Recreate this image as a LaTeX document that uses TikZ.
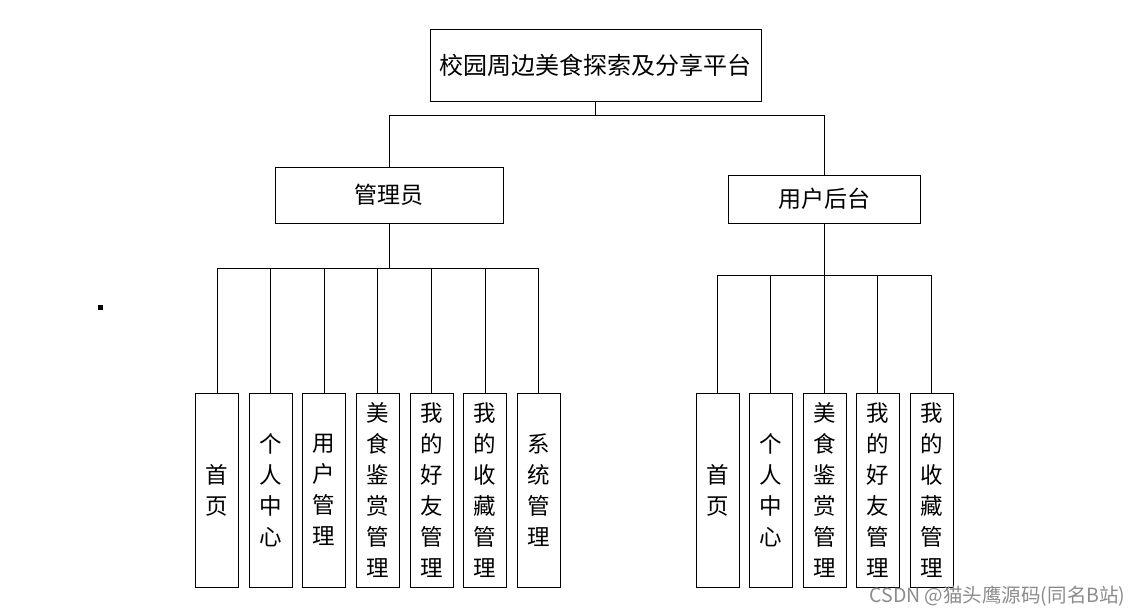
\documentclass[tikz,border=0pt]{standalone}
\usepackage{fontspec}
\newfontfamily\cjk{Noto Sans CJK SC}
\begin{document}
\begin{tikzpicture}[x=1pt,y=-1pt,
  box/.style={draw=black,line width=0.9pt,inner sep=0pt,fill=white},
  leaf/.style={box,minimum width=43pt,minimum height=194pt,align=center,font=\cjk\fontsize{22.5}{31}\selectfont},
  mid/.style={box,font=\cjk\fontsize{23}{28}\selectfont},
  conn/.style={draw=black,line width=0.9pt}]
\useasboundingbox (0,0) rectangle (1139,615);
\fill[white] (0,0) rectangle (1139,615);
% top
\node[box,minimum width=331pt,minimum height=72pt,font=\cjk\fontsize{24}{28}\selectfont] (top) at (595.5,65) {校园周边美食探索及分享平台};
\node[mid,minimum width=228pt,minimum height=56pt] (admin) at (389,195) {管理员};
\node[mid,minimum width=192pt,minimum height=48pt] (user) at (824,199) {用户后台};
% left leaves
\node[leaf] (a1) at (217,490) {首\\页};
\node[leaf] (a2) at (270.5,490) {个\\人\\中\\心};
\node[leaf] (a3) at (324,490) {用\\户\\管\\理};
\node[leaf] (a4) at (377.5,490) {美\\食\\鉴\\赏\\管\\理};
\node[leaf] (a5) at (431.5,490) {我\\的\\好\\友\\管\\理};
\node[leaf] (a6) at (485,490) {我\\的\\收\\藏\\管\\理};
\node[leaf] (a7) at (538.5,490) {系\\统\\管\\理};
% right leaves
\node[leaf] (b1) at (717.5,490) {首\\页};
\node[leaf] (b2) at (770.5,490) {个\\人\\中\\心};
\node[leaf] (b3) at (824.5,490) {美\\食\\鉴\\赏\\管\\理};
\node[leaf] (b4) at (877.5,490) {我\\的\\好\\友\\管\\理};
\node[leaf] (b5) at (931.5,490) {我\\的\\收\\藏\\管\\理};
% junctions
\coordinate (j1) at (top.south |- 0,115);
\coordinate (j2) at (admin.south |- 0,268);
\coordinate (j3) at (user.south |- 0,275);
\draw[conn] (top.south) -- (j1);
\draw[conn] (j1) -| (admin.north);
\draw[conn] (j1) -| (user.north);
\draw[conn] (admin.south) -- (j2);
\foreach \i in {1,...,7}{\draw[conn] (j2) -| (a\i.north);}
\draw[conn] (user.south) -- (j3);
\foreach \i in {1,...,5}{\draw[conn] (j3) -| (b\i.north);}
% small square
\fill[black] (97.5,304.5) rectangle (102.5,309.5);
% watermark
\node[text=black!45,font=\cjk\fontsize{19.5}{21}\selectfont,inner sep=0pt] (wm) at (997.5,596.5) {CSDN @猫头鹰源码(同名B站)};
\end{tikzpicture}
\end{document}
